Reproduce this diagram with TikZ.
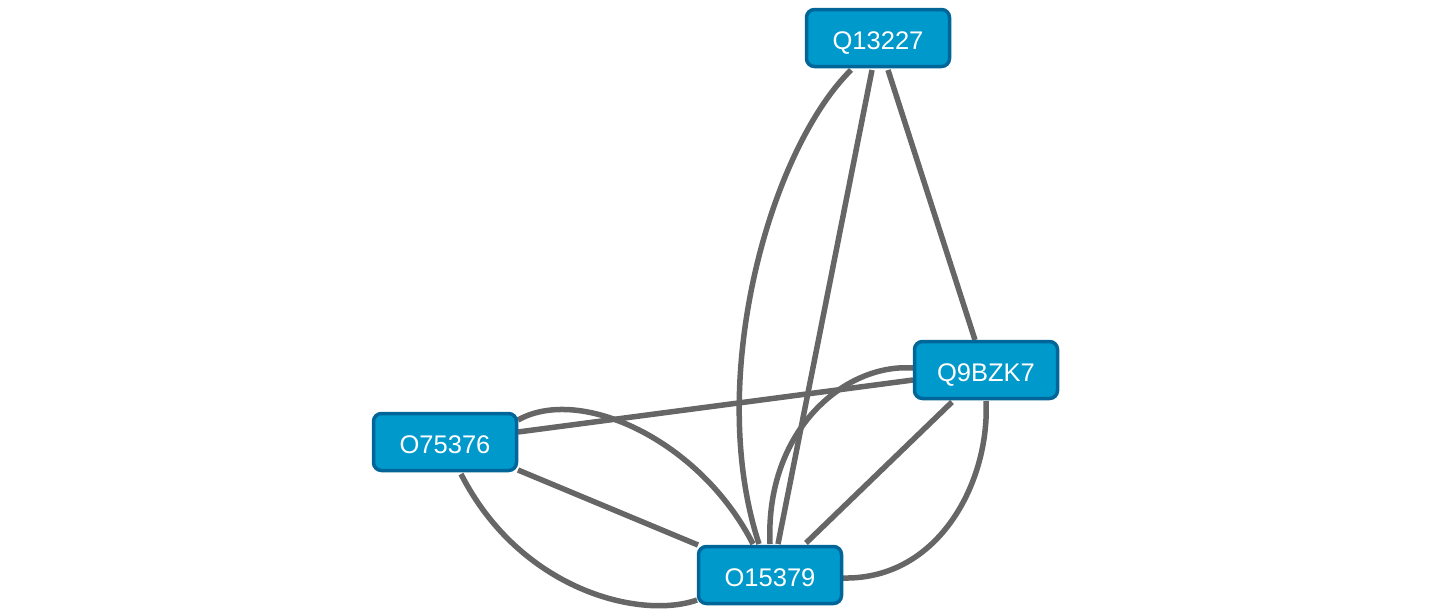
\documentclass[tikz,border=0pt]{standalone}
\usepackage{fontspec}
\setmainfont{Liberation Sans}
\usetikzlibrary{calc,backgrounds}
\definecolor{nodefill}{HTML}{0099CC}
\definecolor{nodeborder}{HTML}{006699}
\definecolor{edgecol}{HTML}{666666}
\begin{document}
\begin{tikzpicture}[x=1pt,y=-1pt,
  prot/.style={draw=nodeborder, fill=nodefill, line width=3.5pt, rounded corners=8pt,
    minimum width=143pt, minimum height=57pt, inner sep=0pt, text=white,
    text height=22.3pt, text depth=0pt,
    font=\fontsize{25.5}{30}\selectfont},
  edge/.style={draw=edgecol, line width=5.5pt}]
\useasboundingbox (0,0) rectangle (1431,613);
\node[prot] (q) at (878,38) {Q13227};
\node[prot] (z) at (986,370) {Q9BZK7};
\node[prot] (a) at (445,442) {O75376};
\node[prot] (o) at (770,575) {O15379};
\begin{scope}[on background layer]
\draw[edge] ($(q)+(-27,32)$) .. controls +(-81,80) and +(-54,-164) .. ($(o)+(-11,-31)$);
\draw[edge] ($(q)+(-6,32)$) -- ($(o)+(8,-31)$);
\draw[edge] ($(q)+(10,32)$) -- ($(z)+(-11,-30)$);
\draw[edge] ($(z)+(-73,10)$) -- ($(a)+(73,-10)$);
\draw[edge] ($(z)+(-73,-2)$) .. controls +(-68,-5) and +(-5,-114) .. ($(o)+(0,-31)$);
\draw[edge] ($(z)+(-34,32)$) -- ($(o)+(36,-32)$);
\draw[edge] ($(z)+(0,31)$) .. controls +(4,79) and +(97,2) .. ($(o)+(73,3)$);
\draw[edge] ($(a)+(73,-22)$) .. controls +(62,-35) and +(-53,-104) .. ($(o)+(-17,-31)$);
\draw[edge] ($(a)+(73,28)$) -- ($(o)+(-72,-30)$);
\draw[edge] ($(a)+(16,32)$) .. controls +(59,116) and +(-57,20) .. ($(o)+(-73,25)$);
\end{scope}
\end{tikzpicture}
\end{document}
